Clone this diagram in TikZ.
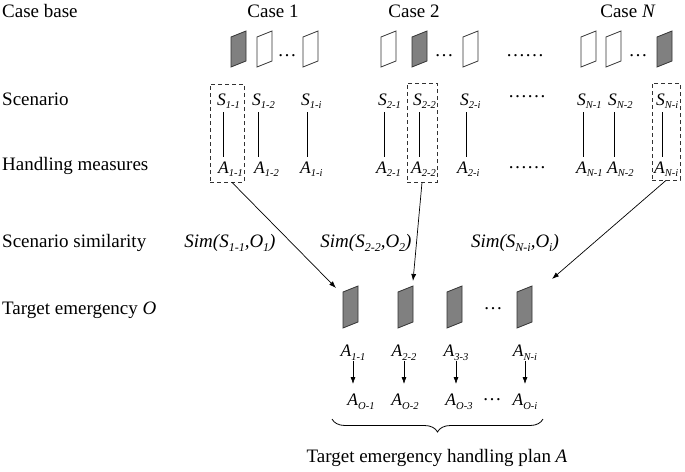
\documentclass[tikz,border=0pt]{standalone}
\usepackage{fontspec}
\setmainfont{Liberation Serif}
\usetikzlibrary{arrows.meta,decorations.pathreplacing}
\definecolor{shade}{RGB}{128,128,128}
\definecolor{edge}{RGB}{50,50,50}
\newcommand{\sbx}[1]{\raisebox{-0.22em}{\fontsize{12}{12}\selectfont\itshape #1}}
\newcommand{\sbs}[1]{\raisebox{-0.22em}{\fontsize{10.5}{11}\selectfont\itshape #1}}
\newcommand{\lbl}[2]{\textit{#1}\sbs{#2}}
\newcommand{\para}[5]{% x, ytop, fill, edge length, shear
  \draw[parastyle, fill=#3] (#1,#2+#5) -- (#1+15,#2) -- (#1+15,#2+#4) -- (#1,#2+#4+#5) -- cycle;}
\tikzset{
  txt/.style={font=\fontsize{19}{22}\selectfont, inner sep=0pt},
  small/.style={font=\fontsize{17.5}{20}\selectfont, inner sep=0pt},
  lab/.style={small, anchor=base west},
  parastyle/.style={draw=edge, line width=0.8pt, line join=miter},
  stem/.style={draw=black, line width=0.8pt},
  dashbox/.style={draw=edge, line width=0.8pt, dash pattern=on 4pt off 3pt, inner sep=0pt},
  arr/.style={draw=black, line width=0.7pt, -{Latex[length=7pt,width=5pt]}},
  dotstyle/.style={txt}
}
\begin{document}
\begin{tikzpicture}[x=1pt,y=-1pt]
\useasboundingbox (0,0) rectangle (685,471);
% left labels
\node[txt, anchor=west] (lcb) at (2,11) {Case base};
\node[txt, anchor=west] (lsc) at (2,99) {Scenario};
\node[txt, anchor=west] (lhm) at (2,166) {Handling measures};
\node[txt, anchor=west] (lss) at (2,243) {Scenario similarity};
\node[txt, anchor=west] (lte) at (2,310) {Target emergency \textit{O}};
% case headers
\node[txt] (c1) at (273,11) {Case 1};
\node[txt] (c2) at (414,11) {Case 2};
\node[txt] (cN) at (628,11) {Case \textit{N}};
% case-base parallelograms
\para{231}{31}{shade}{30}{6}
\para{257}{31}{white}{30}{6}
\para{303}{31}{white}{30}{6}
\node[dotstyle] (d1) at (287,56) {…};
\para{381}{31}{white}{30}{6}
\para{412}{31}{shade}{30}{6}
\node[dotstyle] (d2) at (444,56) {…};
\para{463}{31}{white}{30}{6}
\node[dotstyle] (d3) at (525,56) {……};
\para{581}{31}{white}{30}{6}
\para{606}{31}{white}{30}{6}
\node[dotstyle] (d4) at (638,56) {…};
\para{657}{31}{shade}{30}{6}
% scenarios and measures
\foreach \n/\sx/\ax/\s in {11/217/218/1-1, 12/252/254/1-2, 1i/301/300/1-i, 21/378/376/2-1, 22/413/411/2-2, 2i/460/457/2-i, N1/577/576/N-1, N2/608/607/N-2, Ni/656/654/N-i} {
  \node[lab] (S\n) at (\sx,105) {\lbl{S}{\s}};
  \node[lab] (A\n) at (\ax,173) {\lbl{A}{\s}};
  \coordinate (s\n) at ([shift={(6,7)}]S\n.base west);
  \draw[stem, shorten >=4pt] (s\n) -- (s\n |- A\n.north);
}
\node[dotstyle] (d5) at (527,97) {……};
\node[dotstyle] (d6) at (527,168) {……};
% dashed boxes
\node[dashbox, minimum width=34pt, minimum height=98pt] (B1) at (227,133) {};
\node[dashbox, minimum width=30pt, minimum height=99pt] (B2) at (422,132.5) {};
\node[dashbox, minimum width=28pt, minimum height=97pt] (B3) at (666,131.5) {};
% similarity labels
\node[txt] (sim1) at (230,243) {\textit{Sim(S\sbx{1-1},O\sbx{1})}};
\node[txt] (sim2) at (366,243) {\textit{Sim(S\sbx{2-2},O\sbx{2})}};
\node[txt] (sim3) at (515,243) {\textit{Sim(S\sbx{N-i},O\sbx{i})}};
% target parallelograms
\para{343}{286}{shade}{36}{6}
\para{398}{286}{shade}{36}{6}
\para{447}{286}{shade}{36}{6}
\para{517}{286}{shade}{36}{6}
\node[dotstyle] (d7) at (493,309) {…};
\coordinate (e1) at (336,288);
\coordinate (e2) at (413,281);
\coordinate (e3) at (552,279);
\draw[arr] ([xshift=5pt]B1.south) -- (e1);
\draw[arr] (B2.south) -- (e2);
\draw[arr] (B3.south) -- (e3);
% selected measures
\foreach \n/\px/\qx/\ps/\qs in {1/353/361/1-1/O-1, 2/404/405/2-2/O-2, 3/456/459/3-3/O-3, 4/525/525/N-i/O-i} {
  \node[small] (P\n) at (\px,353) {\lbl{A}{\ps}};
  \node[small] (Q\n) at (\qx,402) {\lbl{A}{\qs}};
  \draw[arr, shorten >=10pt] (P\n.south) -- (P\n.south |- Q\n.north);
}
\node[dotstyle] (d8) at (492,400) {…};
% brace
\coordinate (bl) at (332,419);
\coordinate (br) at (543,419);
\draw[line width=0.8pt, decorate, decoration={brace, amplitude=13pt, mirror}] (bl) -- (br);
\node[txt] (plan) at (437,458) {Target emergency handling plan \textit{A}};
\end{tikzpicture}
\end{document}
